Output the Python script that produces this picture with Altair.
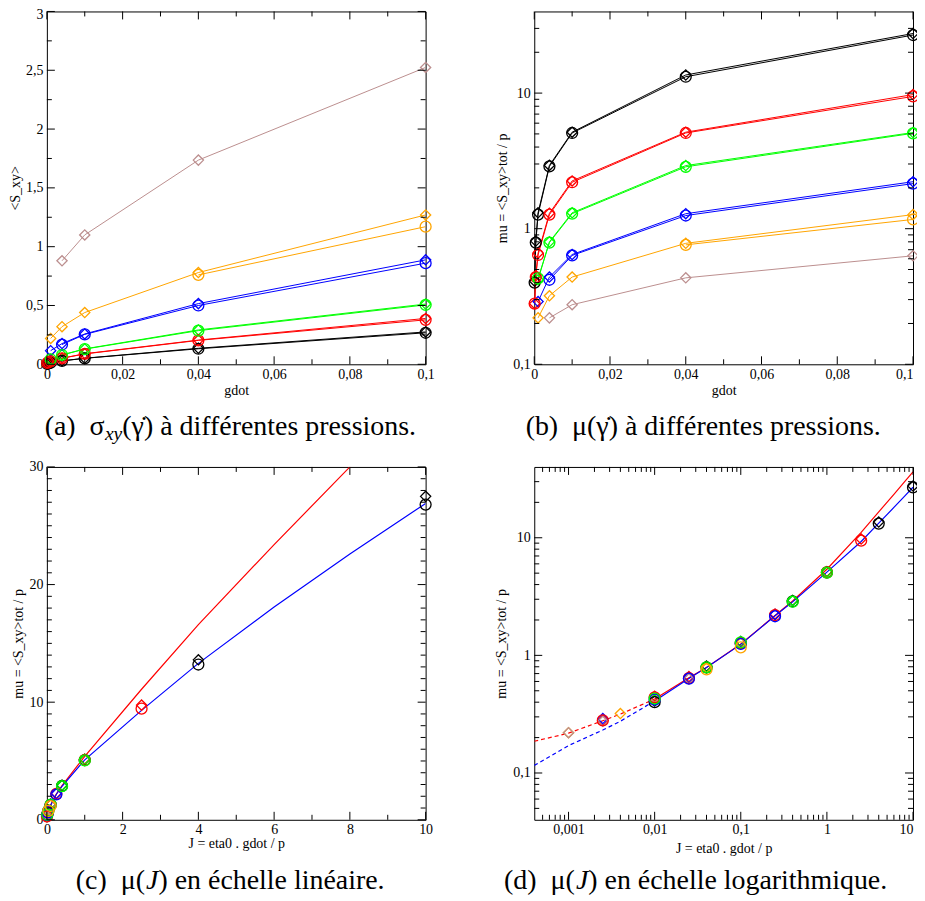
import altair as alt
import pandas as pd

# ------------------------------------------------------------------ data
# pressures of the six series (colour order: black, red, green, blue, orange, rosy brown)
P_BLACK, P_RED, P_GREEN, P_BLUE, P_ORANGE, P_BROWN = 0.01, 0.04, 0.1, 0.4, 1.0, 4.0

# shear rate gdot and friction coefficient mu = <S_xy>tot / p, circles (o) and diamonds (d)
black_o_gdot = [0.0001, 0.0004, 0.001, 0.004, 0.01, 0.04, 0.1]
black_o_mu = [0.40, 0.79, 1.27, 2.88, 5.08, 13.2, 26.8]
black_d_gdot = [0.0001, 0.0004, 0.001, 0.004, 0.01, 0.04, 0.1]
black_d_mu = [0.41, 0.81, 1.31, 2.93, 5.15, 13.6, 27.5]

red_o_gdot = [0.0001, 0.0004, 0.001, 0.004, 0.01, 0.04, 0.1]
red_o_mu = [0.28, 0.44, 0.64, 1.27, 2.20, 5.08, 9.45]
red_d_gdot = [0.0001, 0.0004, 0.001, 0.004, 0.01, 0.04, 0.1]
red_d_mu = [0.28, 0.45, 0.66, 1.30, 2.25, 5.15, 9.75]

green_o_gdot = [0.001, 0.004, 0.01, 0.04, 0.1]
green_o_mu = [0.43, 0.79, 1.29, 2.86, 5.05]
green_d_gdot = [0.001, 0.004, 0.01, 0.04, 0.1]
green_d_mu = [0.42, 0.80, 1.31, 2.92, 5.12]

blue_o_gdot = [0.004, 0.01, 0.04, 0.1]
blue_o_mu = [0.42, 0.635, 1.25, 2.15]
blue_d_gdot = [0.001, 0.004, 0.01, 0.04, 0.1]
blue_d_mu = [0.29, 0.44, 0.645, 1.29, 2.22]

orange_o_gdot = [0.04, 0.1]
orange_o_mu = [0.76, 1.17]
orange_d_gdot = [0.001, 0.004, 0.01, 0.04, 0.1]
orange_d_mu = [0.22, 0.32, 0.44, 0.78, 1.27]

brown_d_gdot = [0.004, 0.01, 0.04, 0.1]
brown_d_mu = [0.22, 0.275, 0.434, 0.631]

# fitted master curves mu(J)
fit_J = [0.0004, 0.001, 0.0025, 0.004, 0.01, 0.025, 0.04, 0.1, 0.25, 0.4, 1, 2.5, 4, 6, 8, 10]
fit_red_mu = [0.186, 0.218, 0.278, 0.317, 0.425, 0.645, 0.79, 1.25, 2.18, 2.9, 5.4, 11.1, 16.6, 23.4, 30.0, 36.4]
fit_blue_mu = [0.116, 0.171, 0.232, 0.275, 0.41, 0.635, 0.79, 1.24, 2.17, 2.85, 5.1, 9.3, 13.3, 18.1, 22.6, 26.9]
ETA0 = 1.0

# tick values
A_X_MAJOR = [0, 0.02, 0.04, 0.06, 0.08, 0.1]
A_X_MINOR = [0.01, 0.03, 0.05, 0.07, 0.09]
A_Y_MAJOR = [0, 0.5, 1, 1.5, 2, 2.5, 3]
A_Y_MINOR = [0.25, 0.75, 1.25, 1.75, 2.25, 2.75]
B_Y_MAJOR = [0.1, 1, 10]
B_Y_MINOR = [0.2, 0.3, 0.4, 0.5, 0.6, 0.7, 0.8, 0.9, 2, 3, 4, 5, 6, 7, 8, 9, 20, 30]
C_X_MAJOR = [0, 2, 4, 6, 8, 10]
C_X_MINOR = [1, 3, 5, 7, 9]
C_Y_MAJOR = [0, 10, 20, 30]
C_Y_MINOR = [1, 2, 3, 4, 5, 6, 7, 8, 9, 11, 12, 13, 14, 15, 16, 17, 18, 19,
             21, 22, 23, 24, 25, 26, 27, 28, 29]
D_X_MAJOR = [0.001, 0.01, 0.1, 1, 10]
D_X_MINOR = [0.0005, 0.0006, 0.0007, 0.0008, 0.0009,
             0.002, 0.003, 0.004, 0.005, 0.006, 0.007, 0.008, 0.009,
             0.02, 0.03, 0.04, 0.05, 0.06, 0.07, 0.08, 0.09,
             0.2, 0.3, 0.4, 0.5, 0.6, 0.7, 0.8, 0.9,
             2, 3, 4, 5, 6, 7, 8, 9]
D_Y_MAJOR = [0.1, 1, 10]
D_Y_MINOR = [0.05, 0.06, 0.07, 0.08, 0.09, 0.2, 0.3, 0.4, 0.5, 0.6, 0.7, 0.8, 0.9,
             2, 3, 4, 5, 6, 7, 8, 9, 20, 30]

# ------------------------------------------------------------------ tables
SERIES = [
    ("black_d", "#000000", "diamond", P_BLACK, black_d_gdot, black_d_mu),
    ("red_d", "#ff0000", "diamond", P_RED, red_d_gdot, red_d_mu),
    ("green_d", "#00ff00", "diamond", P_GREEN, green_d_gdot, green_d_mu),
    ("blue_d", "#0000ff", "diamond", P_BLUE, blue_d_gdot, blue_d_mu),
    ("orange_d", "#ffa500", "diamond", P_ORANGE, orange_d_gdot, orange_d_mu),
    ("brown_d", "#bc8f8f", "diamond", P_BROWN, brown_d_gdot, brown_d_mu),
    ("black_o", "#000000", "circle", P_BLACK, black_o_gdot, black_o_mu),
    ("red_o", "#ff0000", "circle", P_RED, red_o_gdot, red_o_mu),
    ("blue_o", "#0000ff", "circle", P_BLUE, blue_o_gdot, blue_o_mu),
    ("green_o", "#00ff00", "circle", P_GREEN, green_o_gdot, green_o_mu),
    ("orange_o", "#ffa500", "circle", P_ORANGE, orange_o_gdot, orange_o_mu),
]
rows = []
for name, col, shp, p, gd, mu in SERIES:
    for g, m in zip(gd, mu):
        rows.append({"series": name, "colour": col, "shape": shp, "gdot": g, "mu": m,
                     "S": m * p, "J": ETA0 * g / p})
pts = pd.DataFrame(rows)

fit_rows = []
for name, col, mus in (("red", "#ff0000", fit_red_mu), ("blue", "#0000ff", fit_blue_mu)):
    for j, m in zip(fit_J, mus):
        fit_rows.append({"curve": name, "colour": col, "J": j, "mu": m})
fits = pd.DataFrame(fit_rows)

# ------------------------------------------------------------------ helpers
W, H = 380, 354
MAJ, MIN = 8, 5
FONT = "Liberation Serif, Times New Roman, DejaVu Serif, serif"
CAP = 28


def axis(title, values, lpad, tpad, **kw):
    return alt.Axis(title=title, values=values, ticks=False, tickSize=0, domain=False,
                    grid=False,
                    labelExpr="replace(format(datum.value, '~g'), '.', ',')",
                    labelFont=FONT, labelFontSize=14, labelColor="black",
                    labelOverlap=False, labelFlush=False, labelPadding=lpad,
                    titleFont=FONT, titleFontSize=14, titleFontWeight="normal",
                    titleColor="black", titlePadding=tpad, **kw)


def right_end(limit):
    return {"condition": {"test": f"datum.value >= {limit}", "value": "right"},
            "value": "center"}


def tick_layers(xs, ys, xmaj, xmin, ymaj, ymin):
    out = []
    for vals, L in ((xmaj, MAJ), (xmin, MIN)):
        base = alt.Chart(pd.DataFrame({"v": vals})).mark_rule(color="black", strokeWidth=1)
        X = alt.X("v:Q", scale=xs)
        out.append(base.encode(x=X, y=alt.value(H), y2=alt.value(H - L)))
        out.append(base.encode(x=X, y=alt.value(0), y2=alt.value(L)))
    for vals, L in ((ymaj, MAJ), (ymin, MIN)):
        base = alt.Chart(pd.DataFrame({"v": vals})).mark_rule(color="black", strokeWidth=1)
        Y = alt.Y("v:Q", scale=ys)
        out.append(base.encode(y=Y, x=alt.value(0), x2=alt.value(L)))
        out.append(base.encode(y=Y, x=alt.value(W), x2=alt.value(W - L)))
    return out


NORMAL_W = {'(': 333, ')': 333, ' ': 250, '\u00a0': 250, '.': 250, 'a': 444, 'b': 500,
            'c': 444, 'd': 500, 'e': 444, 'f': 333, 'g': 500, 'h': 500, 'i': 278,
            'l': 278, 'm': 778, 'n': 500, 'o': 500, 'p': 500, 'q': 500, 'r': 333,
            's': 389, 't': 278, 'u': 500, 'x': 500, 'y': 500, 'é': 444, 'à': 444,
            'σ': 549, 'μ': 576, 'γ': 411}
ITALIC_W = {'x': 444, 'y': 444, 'J': 444}


def text_w(s, size, italic):
    tab = ITALIC_W if italic else NORMAL_W
    return sum(tab.get(ch, 500) for ch in s if ch != '\u0307') / 1000.0 * size


def caption_layers(pieces, cx, base_y):
    widths = [text_w(t, CAP * sc, it) for t, it, sc, dy in pieces]
    x = cx - sum(widths) / 2.0
    out = []
    for (t, it, sc, dy), w in zip(pieces, widths):
        out.append(
            alt.Chart(alt.Data(values=[{"t": t}]))
            .mark_text(align="left", baseline="alphabetic", font=FONT, fontSize=CAP * sc,
                       fontStyle="italic" if it else "normal", color="black")
            .encode(x=alt.value(x), y=alt.value(base_y + dy), text="t:N")
        )
        x += w
    return out


def point_layer(xf, yf, xs, ys, xax, yax, data):
    return alt.Chart(data).mark_point(filled=False, strokeWidth=1.3, opacity=1).encode(
        x=alt.X(f"{xf}:Q", scale=xs, axis=xax),
        y=alt.Y(f"{yf}:Q", scale=ys, axis=yax),
        color=alt.Color("colour:N", scale=None),
        shape=alt.Shape("shape:N", scale=None),
        size=alt.condition("datum.shape == 'circle'", alt.value(120), alt.value(105)),
    )


def line_layer(xf, yf, xs, ys, xax, yax, data):
    return alt.Chart(data).mark_line(strokeWidth=1).encode(
        x=alt.X(f"{xf}:Q", scale=xs, axis=xax),
        y=alt.Y(f"{yf}:Q", scale=ys, axis=yax),
        color=alt.Color("colour:N", scale=None),
        detail="series:N",
        order=f"{xf}:Q",
    )


MU_TITLE = "mu = <S_xy>tot / p"
J_TITLE = "J = eta0 . gdot / p"

# ------------------------------------------------------------------ panel (a)
xa = alt.Scale(domain=[0, 0.1], nice=False, zero=False)
ya = alt.Scale(domain=[0, 3], nice=False, zero=False)
ax_xa = axis("gdot", A_X_MAJOR, 3, 2)
ax_ya = axis("<S_xy>", A_Y_MAJOR, 4, 3,
             labelOffset={"condition": {"test": "datum.value >= 3", "value": 3}, "value": 0})
panel_a = alt.layer(
    line_layer("gdot", "S", xa, ya, ax_xa, ax_ya, pts),
    point_layer("gdot", "S", xa, ya, ax_xa, ax_ya, pts),
    *tick_layers(xa, ya, A_X_MAJOR, A_X_MINOR, A_Y_MAJOR, A_Y_MINOR),
    *caption_layers([("(a)\u00a0\u00a0σ", False, 1.0, 0), ("xy", True, 0.7, 5),
                     ("(γ\u0307) à différentes pressions.", False, 1.0, 0)], 184, 425),
).properties(width=W, height=H)

# ------------------------------------------------------------------ panel (b)
xb = alt.Scale(domain=[0, 0.1], nice=False, zero=False)
yb = alt.Scale(type="log", domain=[0.1, 40], nice=False)
ax_xb = axis("gdot", A_X_MAJOR, 3, 2, labelAlign=right_end(0.099))
ax_yb = axis(MU_TITLE, B_Y_MAJOR, 4, 3)
panel_b = alt.layer(
    line_layer("gdot", "mu", xb, yb, ax_xb, ax_yb, pts),
    point_layer("gdot", "mu", xb, yb, ax_xb, ax_yb, pts),
    *tick_layers(xb, yb, A_X_MAJOR, A_X_MINOR, B_Y_MAJOR, B_Y_MINOR),
    *caption_layers([("(b)\u00a0\u00a0μ(γ\u0307) à différentes pressions.", False, 1.0, 0)],
                    170, 425),
).properties(width=W, height=H)

# ------------------------------------------------------------------ panel (c)
xc = alt.Scale(domain=[0, 10], nice=False, zero=False)
yc = alt.Scale(domain=[0, 30], nice=False, zero=False)
ax_xc = axis(J_TITLE, C_X_MAJOR, 3, 0)
ax_yc = axis(MU_TITLE, C_Y_MAJOR, 4, 3)
fit_c = alt.Chart(fits).mark_line(strokeWidth=1.2, clip=True).encode(
    x=alt.X("J:Q", scale=xc, axis=ax_xc),
    y=alt.Y("mu:Q", scale=yc, axis=ax_yc),
    color=alt.Color("colour:N", scale=None),
    detail="curve:N",
    order="J:Q",
)
panel_c = alt.layer(
    fit_c,
    point_layer("J", "mu", xc, yc, ax_xc, ax_yc, pts),
    *tick_layers(xc, yc, C_X_MAJOR, C_X_MINOR, C_Y_MAJOR, C_Y_MINOR),
    *caption_layers([("(c)\u00a0\u00a0μ(", False, 1.0, 0), ("J", True, 1.0, 0),
                     (") en échelle linéaire.", False, 1.0, 0)], 184, 423),
).properties(width=W, height=H)

# ------------------------------------------------------------------ panel (d)
xd = alt.Scale(type="log", domain=[0.0004, 10], nice=False)
yd = alt.Scale(type="log", domain=[0.04, 40], nice=False)
ax_xd = axis(J_TITLE, D_X_MAJOR, 3, 5, labelAlign=right_end(9))
ax_yd = axis(MU_TITLE, D_Y_MAJOR, 4, 4)


def fit_d(test, dash):
    if dash:
        mark = alt.Chart(fits).mark_line(strokeWidth=1.2, clip=True, strokeDash=dash)
    else:
        mark = alt.Chart(fits).mark_line(strokeWidth=1.2, clip=True)
    return mark.transform_filter(test).encode(
        x=alt.X("J:Q", scale=xd, axis=ax_xd),
        y=alt.Y("mu:Q", scale=yd, axis=ax_yd),
        color=alt.Color("colour:N", scale=None),
        detail="curve:N",
        order="J:Q",
    )


panel_d = alt.layer(
    fit_d("datum.J <= 0.01", [4, 3]),
    fit_d("datum.J >= 0.01", None),
    point_layer("J", "mu", xd, yd, ax_xd, ax_yd, pts),
    *tick_layers(xd, yd, D_X_MAJOR, D_X_MINOR, D_Y_MAJOR, D_Y_MINOR),
    *caption_layers([("(d)\u00a0\u00a0μ(", False, 1.0, 0), ("J", True, 1.0, 0),
                     (") en échelle logarithmique.", False, 1.0, 0)], 162, 423),
).properties(width=W, height=H)

# ------------------------------------------------------------------ layout
chart = (
    alt.concat(panel_a, panel_b, panel_c, panel_d, columns=2,
               spacing={"row": 103, "column": 109}, bounds="flush")
    .properties(padding={"left": 0, "top": -3, "right": -5, "bottom": 0}, background="white")
    .configure_view(stroke="black", strokeWidth=1)
)

chart.save("out.html", embed_options={"renderer": "svg", "actions": False})
